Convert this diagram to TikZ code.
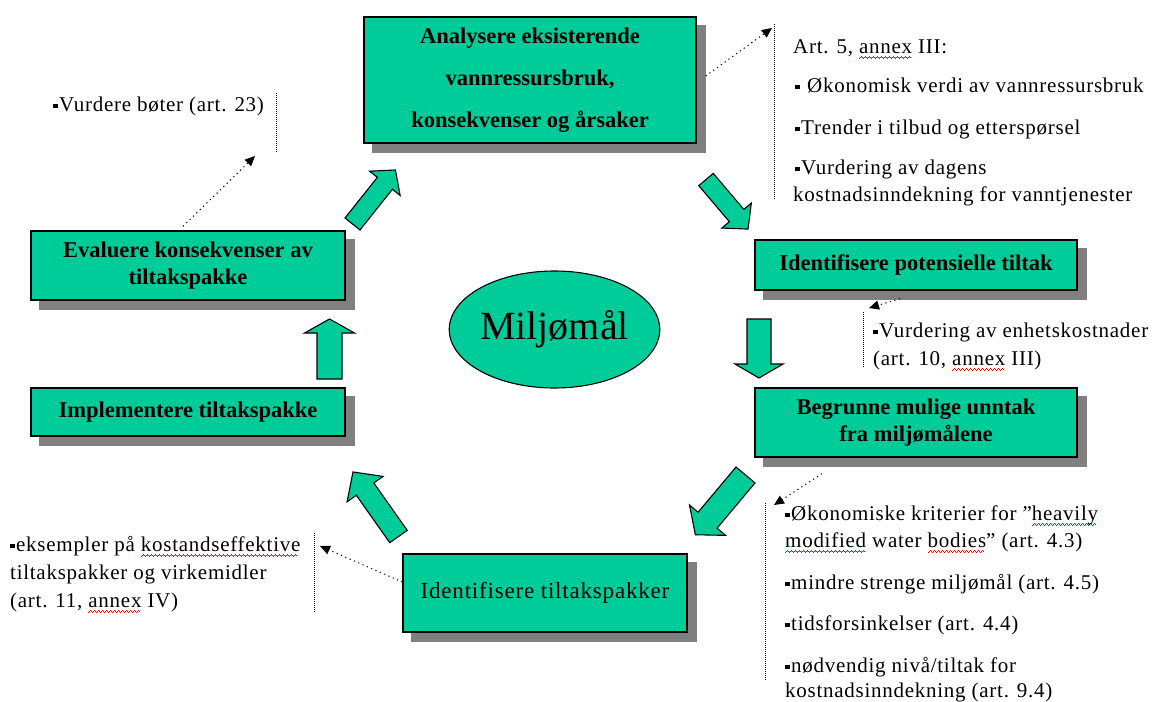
\documentclass[tikz,border=0pt]{standalone}
\usepackage{fontspec}
\setmainfont{Liberation Serif}
\newfontfamily\notefont[LetterSpace=3.5]{Liberation Serif}
\usetikzlibrary{shapes.geometric,arrows.meta,backgrounds}

\definecolor{boxgreen}{RGB}{0,204,153}
\definecolor{shadowgray}{RGB}{128,128,128}

% red wavy underline for words flagged by the spell checker
\newsavebox\spellbox
\newcommand\spell[1]{\sbox\spellbox{#1}%
  \rlap{\color{red}\leaders\hbox{\rule[-6pt]{1pt}{0.9pt}\rule[-5pt]{1pt}{0.9pt}%
    \rule[-4pt]{1pt}{0.9pt}\rule[-5pt]{1pt}{0.9pt}}\hskip\wd\spellbox}%
  \usebox\spellbox}
% small square bullet
\newcommand\bul{\raisebox{3pt}{\rule{4.5pt}{4.5pt}}\hspace{1.5pt}}

% block arrow: tail centre (#1,#2), direction #3, length #4,
% shaft half width #5, head half width #6, head length #7
\newcommand\blockarrow[7]{%
  \begin{scope}[shift={(#1,#2)}, rotate=#3]
    \draw[cyclearrow] (0,#5) -- ({#4-#7},#5) -- ({#4-#7},#6) -- (#4,0)
      -- ({#4-#7},-#6) -- ({#4-#7},-#5) -- (0,-#5) -- cycle;
  \end{scope}}

\begin{document}
\begin{tikzpicture}[x=1pt, y=-1pt,
  stepbox/.style={draw=black, line width=1.3pt, fill=boxgreen, inner sep=0pt,
    align=center, font={\bfseries\fontsize{22.5}{27}\selectfont}},
  cyclearrow/.style={draw=black, line width=1.1pt, fill=boxgreen, line join=miter},
  note/.style={inner sep=0pt, anchor=base west,
    font={\notefont\fontsize{21}{27}\selectfont}},
  callout/.style={draw=black, line width=1pt, dash pattern=on 1.2pt off 3.5pt,
    -{Triangle[length=10pt,width=9pt]}},
  bracket/.style={draw=black, line width=0.9pt, dash pattern=on 1pt off 1pt}]

\useasboundingbox (0,0) rectangle (1155,701);

% process steps
\node[stepbox, minimum width=332pt, minimum height=126pt,
  font={\bfseries\fontsize{22.5}{42}\selectfont}] (top) at (530,80)
  {Analysere eksisterende\\vannressursbruk,\\konsekvenser og årsaker};
\node[stepbox, minimum width=322pt, minimum height=50pt] (pot) at (916,265)
  {Identifisere potensielle tiltak};
\node[stepbox, minimum width=322pt, minimum height=69pt] (beg) at (916,422.5)
  {Begrunne mulige unntak\\fra miljømålene};
\node[stepbox, minimum width=284pt, minimum height=78pt,
  font={\notefont\fontsize{23}{27}\selectfont}] (tilt) at (545,593)
  {Identifisere tiltakspakker};
\node[stepbox, minimum width=314pt, minimum height=48pt] (impl) at (188,412)
  {Implementere tiltakspakke};
\node[stepbox, minimum width=314pt, minimum height=69pt] (eval) at (188,265.5)
  {Evaluere konsekvenser av\\tiltakspakke};

% goal in the centre
\node[ellipse, draw=black, line width=1.1pt, fill=boxgreen, inner sep=0pt,
  minimum width=185pt, minimum height=117pt,
  font={\fontsize{40}{40}\selectfont}] (goal) at (554.5,329.5) {Miljømål};

% drop shadows
\begin{scope}[on background layer]
  \fill[white] (0,0) rectangle (1155,701);
  \foreach \n in {top,pot,beg,tilt,impl,eval}
    \fill[shadowgray] ([shift={(9,9)}]\n.south west) rectangle ([shift={(9,9)}]\n.north east);
\end{scope}

% cycle arrows
\blockarrow{352.5}{224}{51.5}{69}{9.6}{19.5}{17}
\blockarrow{706}{179.5}{-49.7}{65}{9.5}{19.3}{17.7}
\blockarrow{759}{319}{-90}{59}{12}{24}{14}
\blockarrow{745.5}{475}{-130}{78}{12.4}{23.6}{19}
\blockarrow{398.5}{536.5}{125.2}{79}{10.7}{22}{21}
\blockarrow{329.5}{379}{90}{60}{12.5}{25}{14}

% callout: Art. 5
\draw[bracket] (774,24) -- (774,200);
\coordinate (t1) at (772,28);
\draw[callout] ([xshift=9pt,yshift=4pt]top.east) -- (t1);
\node[note] (a1) at (793,53) {Art. 5, \spell{annex} III:};
\node[note] (a2) at (795,92) {\bul\hspace{6pt}Økonomisk verdi av vannressursbruk};
\node[note] (a3) at (795,134) {\bul Trender i tilbud og etterspørsel};
\node[note] (a4) at (795,174) {\bul Vurdering av dagens};
\node[note] (a5) at (793,201) {kostnadsinndekning for vanntjenester};

% callout: fines
\draw[bracket] (276,93) -- (276,153);
\coordinate (t2) at (255,156);
\draw[callout] ([xshift=-5pt,yshift=4pt]eval.north) -- (t2);
\node[note] (b1) at (53,111) {\bul Vurdere bøter (art. 23)};

% callout: unit costs
\draw[bracket] (863,312) -- (863,368);
\coordinate (t3) at (869,308);
\draw[callout] ([xshift=-16pt,yshift=-8pt]pot.south) -- (t3);
\node[note] (c1) at (873,337) {\bul Vurdering av enhetskostnader};
\node[note] (c2) at (873,365) {(art. 10, \spell{annex} III)};

% callout: exemptions
\draw[bracket] (765,503) -- (765,680);
\coordinate (t4) at (774,505);
\draw[callout] ([xshift=-94pt,yshift=-16pt]beg.south) -- (t4);
\node[note] (d1) at (785,520) {\bul Økonomiske kriterier for ”\spell{heavily}};
\node[note] (d2) at (785,547) {\spell{modified} water \spell{bodies}” (art. 4.3)};
\node[note] (d3) at (785,589) {\bul mindre strenge miljømål (art. 4.5)};
\node[note] (d4) at (785,630) {\bul tidsforsinkelser (art. 4.4)};
\node[note] (d5) at (785,672) {\bul nødvendig nivå/tiltak for};
\node[note] (d6) at (785,697) {kostnadsinndekning (art. 9.4)};

% callout: cost-effective packages
\draw[bracket] (314,533) -- (314,612);
\coordinate (t5) at (320,546);
\draw[callout] ([yshift=11pt]tilt.west) -- (t5);
\node[note] (e1) at (10,551) {\bul eksempler på \spell{kostandseffektive}};
\node[note] (e2) at (10,579) {tiltakspakker og virkemidler};
\node[note] (e3) at (10,607) {(art. 11, \spell{annex} IV)};

\end{tikzpicture}
\end{document}
